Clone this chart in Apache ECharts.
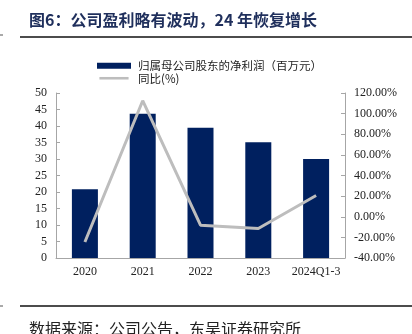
<!DOCTYPE html>
<html><head><meta charset="utf-8">
<script src="https://cdn.jsdelivr.net/npm/echarts@6/dist/echarts.min.js"></script>
<style>html,body{margin:0;padding:0;background:#fff}#c{width:412px;height:334px}</style>
</head><body><div id="c"></div>
<script>
const categories = ['2020','2021','2022','2023','2024Q1-3'];
const netProfit = [20.8, 43.7, 39.5, 35.1, 30.0];
const yoyGrowth = [-24.5, 112.5, -8.2, -11.4, 20.6];
const leftTicks = [0,5,10,15,20,25,30,35,40,45,50];
const rightTicks = [-40,-20,0,20,40,60,80,100,120];
const seriesNames = ['归属母公司股东的净利润（百万元）','同比(%)'];

const chart = echarts.init(document.getElementById('c'), null, {renderer:'canvas'});
const serif = '"Liberation Serif","Times New Roman",serif';
const cjk = '"Noto Sans CJK SC","Noto Sans",sans-serif';
const axisGrey = '#a6a6a6';
chart.setOption({
  animation:false,
  backgroundColor:'#fff',
  grid:{left:56,right:67,top:93,bottom:76,containLabel:false},
  legend:{
    orient:'vertical', left:92, top:55, itemWidth:34, itemHeight:6, itemGap:1,
    textStyle:{fontFamily:cjk,fontSize:11.5,color:'#222',padding:[0,0,0,2]},
    data:[{name:seriesNames[0],icon:'rect'},
          {name:seriesNames[1],icon:'path://M0,0L0,0M0,2L34,2L34,5L0,5ZM34,7L34,7'}]
  },
  xAxis:{
    type:'category', data:categories,
    axisLine:{lineStyle:{color:axisGrey,width:1}},
    axisTick:{inside:true,length:4,lineStyle:{color:axisGrey}},
    axisLabel:{fontFamily:serif,fontSize:12,color:'#222',margin:8,interval:0}
  },
  yAxis:[{
    type:'value', min:leftTicks[0], max:leftTicks[leftTicks.length-1], interval:5,
    axisLine:{show:true,lineStyle:{color:axisGrey}},
    axisTick:{show:true,inside:true,length:4,lineStyle:{color:axisGrey}},
    splitLine:{show:false},
    axisLabel:{fontFamily:serif,fontSize:12,color:'#222',margin:9}
  },{
    type:'value', min:rightTicks[0], max:rightTicks[rightTicks.length-1], interval:20,
    position:'right',
    axisLine:{show:true,lineStyle:{color:axisGrey}},
    axisTick:{show:true,inside:true,length:4,lineStyle:{color:axisGrey}},
    splitLine:{show:false},
    axisLabel:{fontFamily:serif,fontSize:12,color:'#222',margin:9,
      formatter:v=>v.toFixed(2)+'%'}
  }],
  series:[{
    name:seriesNames[0], type:'bar', data:netProfit, barWidth:'45%',
    itemStyle:{color:'#00205f'}
  },{
    name:seriesNames[1], type:'line', yAxisIndex:1, data:yoyGrowth,
    symbol:'none', lineStyle:{color:'#bdbdbd',width:3},
    itemStyle:{color:'#bdbdbd'}
  }],
  graphic:[
    {type:'text',left:29,top:12,style:{text:'图6：公司盈利略有波动，24 年恢复增长',
      font:'bold 16px '+cjk,fill:'#1f2f5c'}},
    {type:'line',shape:{x1:20,y1:37,x2:412,y2:37},style:{stroke:'#111',lineWidth:1.5}},
    {type:'line',shape:{x1:0,y1:35,x2:3,y2:35},style:{stroke:'#555',lineWidth:1}},
    {type:'line',shape:{x1:20,y1:306,x2:412,y2:306},style:{stroke:'#111',lineWidth:1.5}},
    {type:'line',shape:{x1:0,y1:306,x2:3,y2:306},style:{stroke:'#555',lineWidth:1}},
    {type:'text',left:29,top:321,style:{text:'数据来源：公司公告，东吴证券研究所',
      font:'16px '+cjk,fill:'#222'}}
  ]
});
</script></body></html>
